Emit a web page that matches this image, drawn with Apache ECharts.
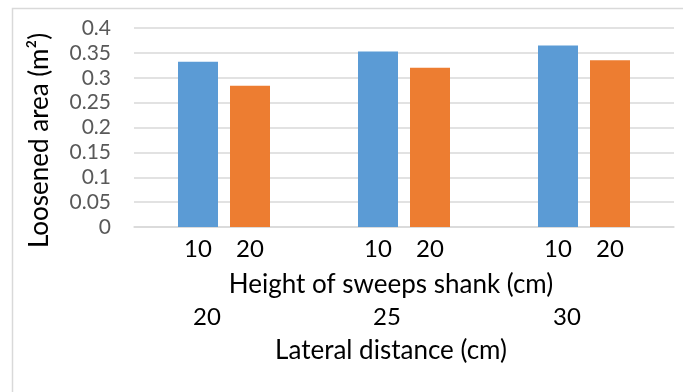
<!DOCTYPE html>
<html>
<head>
<meta charset="utf-8">
<script src="https://cdn.jsdelivr.net/npm/echarts@6/dist/echarts.min.js"></script>
<style>html,body{margin:0;padding:0;background:#fff;}#c{width:683px;height:392px;}</style>
</head>
<body>
<div id="c"></div>
<script>
const lateralDistances = ['20', '25', '30'];
const shankHeights = ['10', '20'];
const area10 = [0.332, 0.353, 0.365];
const area20 = [0.284, 0.320, 0.335];
const yTicks = { min: 0, max: 0.4, interval: 0.05 };

const font = 'Lato, "Noto Sans", sans-serif';
const chart = echarts.init(document.getElementById('c'), null, { renderer: 'canvas' });

function heightLabel(idx) {
  return {
    show: true,
    position: 'bottom',
    distance: 10,
    color: '#000',
    fontFamily: font,
    fontSize: 24,
    formatter: () => shankHeights[idx]
  };
}

chart.setOption({
  animation: false,
  backgroundColor: '#fff',
  graphic: [{
    type: 'rect',
    shape: { x: 12.5, y: 8.5, width: 700, height: 420 },
    style: { fill: 'none', stroke: '#d9d9d9', lineWidth: 1.5 },
    silent: true
  }],
  grid: { left: 134, right: 9, top: 28, bottom: 165 },
  xAxis: [{
    type: 'category',
    data: lateralDistances,
    axisLine: { show: true, lineStyle: { color: '#d9d9d9', width: 1.5 } },
    axisTick: { show: false },
    axisLabel: {
      color: '#000', fontFamily: font, fontSize: 24, margin: 78,
      padding: [0, 34, 0, 0]
    },
    name: 'Lateral distance (cm)',
    nameLocation: 'middle',
    nameGap: 111,
    nameTextStyle: { color: '#000', fontFamily: font, fontSize: 26, padding: [0, 26, 0, 0] }
  }, {
    type: 'category',
    data: lateralDistances,
    position: 'bottom',
    axisLine: { show: false },
    axisTick: { show: false },
    axisLabel: { show: false },
    splitLine: { show: false },
    name: 'Height of sweeps shank (cm)',
    nameLocation: 'middle',
    nameGap: 45,
    nameTextStyle: { color: '#000', fontFamily: font, fontSize: 26, padding: [0, 26, 0, 0] }
  }],
  yAxis: {
    type: 'value',
    min: yTicks.min, max: yTicks.max, interval: yTicks.interval,
    axisLine: { show: false },
    axisTick: { show: false },
    splitLine: { lineStyle: { color: '#d9d9d9', width: 1.5 } },
    axisLabel: {
      color: '#595959', fontFamily: font, fontSize: 21, margin: 23,
      formatter: v => String(parseFloat(v.toFixed(2)))
    },
    name: 'Loosened area (m²)',
    nameLocation: 'middle',
    nameRotate: 90,
    nameGap: 81,
    nameTextStyle: { color: '#000', fontFamily: font, fontSize: 26, padding: [0, 26, 0, 0] }
  },
  series: [{
    type: 'bar',
    data: area10,
    barWidth: 40,
    barGap: '30%',
    itemStyle: { color: '#5b9bd5' },
    label: heightLabel(0)
  }, {
    type: 'bar',
    data: area20,
    barWidth: 40,
    barGap: '30%',
    itemStyle: { color: '#ed7d31' },
    label: heightLabel(1)
  }]
});
</script>
</body>
</html>
